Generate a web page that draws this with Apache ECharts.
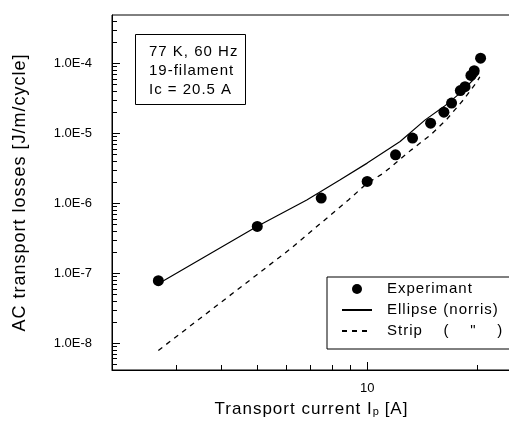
<!DOCTYPE html>
<html>
<head>
<meta charset="utf-8">
<style>html,body{margin:0;padding:0;background:#fff;}#c{width:509px;height:421px;}</style>
<script src="https://cdn.jsdelivr.net/npm/echarts@6/dist/echarts.min.js"></script>
</head>
<body>
<div id="c"></div>
<script>
// letter spacing for larger text (the reference type is slightly spaced)
(function(){
  var P = CanvasRenderingContext2D.prototype;
  if (!('letterSpacing' in P)) return;
  function sp(ctx){ var m = /(\d+(?:\.\d+)?)px/.exec(ctx.font); var s = m ? parseFloat(m[1]) : 12; ctx.letterSpacing = s >= 14 ? '1px' : '0px'; }
  ['fillText','strokeText','measureText'].forEach(function(k){ var o = P[k]; P[k] = function(){ sp(this); return o.apply(this, arguments); }; });
})();

// Experimental points (Transport current [A], AC loss [J/m/cycle])
var expX = [2.69, 5.01, 7.49, 10.0, 11.95, 13.3, 14.9, 16.2, 17.0, 17.96, 18.5, 19.2, 19.6, 20.4];
var expY = [7.76e-8, 4.63e-7, 1.18e-6, 2.04e-6, 4.9e-6, 8.5e-6, 1.39e-5, 2.0e-5, 2.7e-5, 4.07e-5, 4.63e-5, 6.7e-5, 7.84e-5, 1.18e-4];
// Norris ellipse curve
var ellX = [2.69, 5.0, 6.84, 8.44, 10.0, 12.3, 14.4, 16.2, 18.0, 19.6, 20.2];
var ellY = [7.03e-8, 4.63e-7, 1.11e-6, 2.15e-6, 3.73e-6, 7.59e-6, 1.55e-5, 2.40e-5, 3.8e-5, 6.0e-5, 7.2e-5];
// Norris strip curve
var stripX = [2.69, 5.0, 6.16, 8.89, 10.0, 11.08, 13.2, 14.9, 16.5, 18.3, 19.95, 20.3];
var stripY = [7.8e-9, 9.46e-8, 2.2e-7, 1.11e-6, 1.93e-6, 2.68e-6, 5.77e-6, 9.46e-6, 1.58e-5, 2.99e-5, 5.46e-5, 6.4e-5];
// Axis ticks
var xMajorTicks = [10];
var xMinorTicks = [3, 4, 5, 6, 7, 8, 9, 20];
var yMajorTicks = [1e-8, 1e-7, 1e-6, 1e-5, 1e-4];
var yMinorTicks = [];
[1e-9, 1e-8, 1e-7, 1e-6, 1e-5, 1e-4].forEach(function(d){ for (var k = 2; k <= 9; k++) yMinorTicks.push(+(k * d).toPrecision(3)); });
var xRange = [2.01, 24.7];
var yRange = [4.1e-9, 4.9e-4];
var legendNames = ['Experimant', 'Ellipse (norris)', 'Strip    (    "    )'];
var infoText = '77 K, 60 Hz\n19-filament\nIc = 20.5 A';

var MAJOR_LEN = 8, MINOR_LEN = 5;

function pairs(xs, ys){ return xs.map(function(x, i){ return [x, ys[i]]; }); }
function inRange(v, r){ return v >= r[0] && v <= r[1]; }

var xTickData = xMajorTicks.map(function(v){ return [v, yRange[0], MAJOR_LEN]; })
  .concat(xMinorTicks.map(function(v){ return [v, yRange[0], MINOR_LEN]; }))
  .filter(function(d){ return inRange(d[0], xRange); });
var yTickData = yMajorTicks.map(function(v){ return [xRange[0], v, MAJOR_LEN]; })
  .concat(yMinorTicks.map(function(v){ return [xRange[0], v, MINOR_LEN]; }))
  .filter(function(d){ return inRange(d[1], yRange); });

function tickRenderer(dir){
  return function(params, api){
    var p = api.coord([api.value(0), api.value(1)]);
    var len = api.value(2);
    var x = Math.round(p[0]), y = Math.round(p[1]);
    var shape = dir === 'x' ? {x: x, y: y - len, width: 1, height: len} : {x: x, y: y, width: len, height: 1};
    return {type: 'rect', shape: shape, style: {fill: '#000'}};
  };
}

var FONT = 'Liberation Sans';
var chart = echarts.init(document.getElementById('c'), null, {renderer: 'canvas'});
chart.setOption({
  animation: false,
  backgroundColor: '#fff',
  textStyle: {fontFamily: FONT, color: '#000'},
  grid: {left: 112, top: 15, right: -2, bottom: 51, show: true, borderColor: '#000', borderWidth: 1, containLabel: false, outerBoundsMode: 'none'},
  title: {
    text: infoText, left: 135, top: 34,
    padding: [8, 7, 6, 14], borderColor: '#000', borderWidth: 1,
    textStyle: {fontFamily: FONT, fontSize: 15, fontWeight: 'normal', lineHeight: 19, color: '#000'}
  },
  legend: {
    data: [
      {name: legendNames[0]},
      {name: legendNames[1], itemStyle: {color: 'rgba(0,0,0,0)', borderWidth: 0, opacity: 0}},
      {name: legendNames[2], itemStyle: {color: 'rgba(0,0,0,0)', borderWidth: 0, opacity: 0}}
    ],
    orient: 'vertical', left: 327, top: 277,
    padding: [4, 20, 10, 14], itemGap: 5, itemWidth: 30, itemHeight: 10,
    borderColor: '#000', borderWidth: 1, backgroundColor: '#fff',
    textStyle: {fontFamily: FONT, fontSize: 15, color: '#000', padding: [0, 0, 0, 10]}
  },
  xAxis: {
    type: 'log', logBase: 10, min: xRange[0], max: xRange[1], position: 'bottom',
    splitLine: {show: false}, minorTick: {show: false},
    name: '{a|Transport current I}{s|p}{a| [A]}', nameLocation: 'middle', nameGap: 27,
    nameTextStyle: {rich: {a: {fontFamily: FONT, fontSize: 17, color: '#000'}, s: {fontFamily: FONT, fontSize: 11, color: '#000', padding: [6, 0, 0, 0]}}},
    axisLine: {show: true, lineStyle: {color: '#000', width: 1}},
    axisTick: {show: false},
    axisLabel: {show: true, customValues: xMajorTicks, margin: 12, fontSize: 13, fontFamily: FONT, color: '#000', formatter: function(v){ return String(Math.round(v)); }}
  },
  yAxis: {
    type: 'log', logBase: 10, min: yRange[0], max: yRange[1], position: 'left',
    splitLine: {show: false}, minorTick: {show: false},
    name: 'AC transport losses [J/m/cycle]', nameLocation: 'middle', nameGap: 82,
    nameTextStyle: {fontFamily: FONT, fontSize: 18, color: '#000'},
    axisLine: {show: true, lineStyle: {color: '#000', width: 1}},
    axisTick: {show: false},
    axisLabel: {show: true, customValues: yMajorTicks, margin: 20, fontSize: 13, fontFamily: FONT, color: '#000',
      formatter: function(v){ return '1.0E' + Math.round(Math.log10(v)); }}
  },
  series: [
    {name: legendNames[0], type: 'scatter', data: pairs(expX, expY),
     symbol: 'circle', symbolSize: 11, itemStyle: {color: '#000', opacity: 1}, z: 5},
    {name: legendNames[1], type: 'line', data: pairs(ellX, ellY),
     symbol: 'none', smooth: false, lineStyle: {color: '#000', width: 1.2, type: 'solid'}, itemStyle: {color: '#000'}, z: 2},
    {name: legendNames[2], type: 'line', data: pairs(stripX, stripY),
     symbol: 'none', smooth: false, lineStyle: {color: '#000', width: 1.3, type: [5, 5]}, itemStyle: {color: '#000'}, z: 2},
    {type: 'custom', data: xTickData, renderItem: tickRenderer('x'), z: 10},
    {type: 'custom', data: yTickData, renderItem: tickRenderer('y'), z: 10}
  ]
});
</script>
</body>
</html>
